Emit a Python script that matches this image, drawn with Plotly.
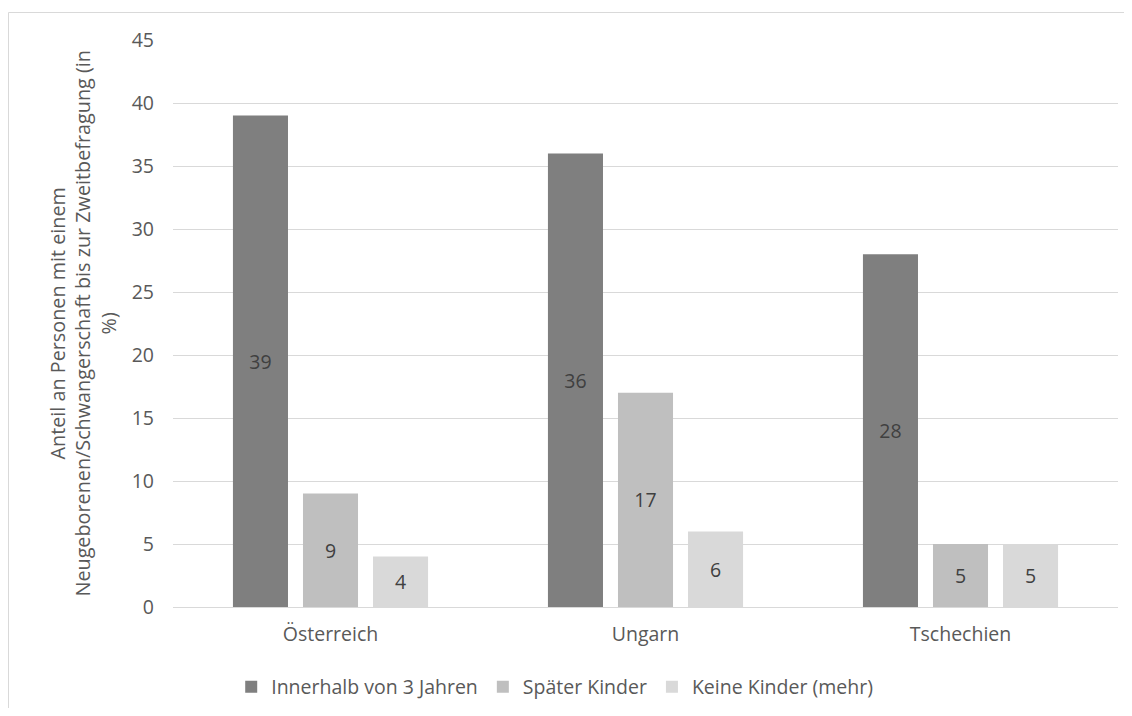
import plotly.graph_objects as go

categories = ["Österreich", "Ungarn", "Tschechien"]
series_names = ["Innerhalb von 3 Jahren", "Später Kinder", "Keine Kinder (mehr)"]
innerhalb = [39, 36, 28]
spaeter = [9, 17, 5]
keine = [4, 6, 5]
colors = ["#7f7f7f", "#bfbfbf", "#d9d9d9"]
y_ticks = [0, 5, 10, 15, 20, 25, 30, 35, 40, 45]
y_title = "Anteil an Personen mit einem<br>Neugeborenen/Schwangerschaft bis zur Zweitbefragung (in<br>%)"

FONT = "Open Sans"
FS = 19.5
W, H = 1124, 700
L, R, T, B = 165, 14, 32, 101

fig = go.Figure()
for name, vals, col in zip(series_names, [innerhalb, spaeter, keine], colors):
    fig.add_trace(go.Bar(
        x=categories, y=vals, name=name,
        marker=dict(color=col, line=dict(width=0)),
        text=[str(v) for v in vals], textposition="inside",
        insidetextanchor="middle",
        textfont=dict(color="#404040", size=FS, family=FONT),
        constraintext="none",
    ))

pw = W - L - R
ph = H - T - B
def px_x(p):
    return (p - L) / pw
def px_y(p):
    return (H - B - p) / ph

fig.add_shape(type="rect", xref="paper", yref="paper",
              x0=px_x(0.5), x1=px_x(1135), y0=px_y(720), y1=px_y(4.5),
              line=dict(color="#d9d9d9", width=1), fillcolor="rgba(0,0,0,0)", layer="below")

fig.add_annotation(text=y_title, xref="paper", yref="paper",
                   x=px_x(74), y=px_y(315.5), xanchor="center", yanchor="middle",
                   textangle=-90, showarrow=False,
                   font=dict(family=FONT, size=19.8, color="#595959"))

fig.update_layout(
    width=W, height=H,
    margin=dict(l=L, r=R, t=T, b=B, autoexpand=False),
    paper_bgcolor="white", plot_bgcolor="white",
    barmode="group", bargap=0.333, bargroupgap=0.214,
    font=dict(family=FONT, color="#595959", size=FS),
    showlegend=True,
    legend=dict(orientation="h", xref="container", yref="container",
                x=0.4864, xanchor="center", y=(H - 679) / H, yanchor="middle",
                font=dict(size=FS, color="#595959", family=FONT),
                itemwidth=30, tracegroupgap=0),
    xaxis=dict(showgrid=False, showline=False, ticks="", ticklabelstandoff=13,
               tickfont=dict(size=FS, color="#595959", family=FONT)),
    yaxis=dict(range=[0, 45], tickvals=y_ticks, showgrid=True, gridcolor="#d9d9d9", gridwidth=1,
               zeroline=True, zerolinecolor="#d9d9d9", zerolinewidth=1, showline=False,
               ticks="", ticklabelstandoff=18, tickfont=dict(size=FS, color="#595959", family=FONT)),
)

fig.write_html("out.html")
